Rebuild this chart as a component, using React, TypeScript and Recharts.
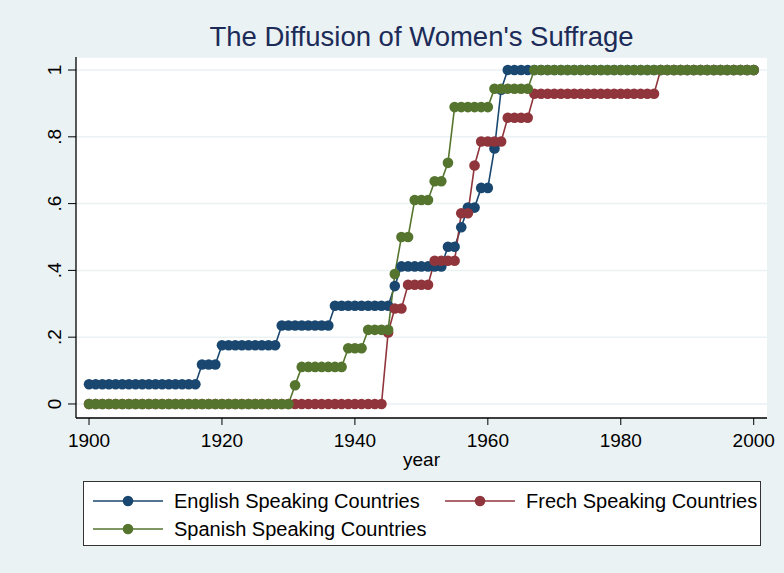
import React from 'react';
import { LineChart, Line, XAxis, YAxis, CartesianGrid, Legend } from 'recharts';

const years = Array.from({ length: 101 }, (_, i) => 1900 + i);

const english = [
  0.059, 0.059, 0.059, 0.059, 0.059, 0.059, 0.059, 0.059, 0.059, 0.059,
  0.059, 0.059, 0.059, 0.059, 0.059, 0.059, 0.059, 0.118, 0.118, 0.118,
  0.176, 0.176, 0.176, 0.176, 0.176, 0.176, 0.176, 0.176, 0.176, 0.235,
  0.235, 0.235, 0.235, 0.235, 0.235, 0.235, 0.235, 0.294, 0.294, 0.294,
  0.294, 0.294, 0.294, 0.294, 0.294, 0.294, 0.353, 0.412, 0.412, 0.412,
  0.412, 0.412, 0.412, 0.412, 0.471, 0.471, 0.529, 0.588, 0.588, 0.647,
  0.647, 0.765, 0.941, 1, 1, 1, 1, 1, 1, 1,
  1, 1, 1, 1, 1, 1, 1, 1, 1, 1,
  1, 1, 1, 1, 1, 1, 1, 1, 1, 1,
  1, 1, 1, 1, 1, 1, 1, 1, 1, 1,
  1,
];

const french = [
  0, 0, 0, 0, 0, 0, 0, 0, 0, 0,
  0, 0, 0, 0, 0, 0, 0, 0, 0, 0,
  0, 0, 0, 0, 0, 0, 0, 0, 0, 0,
  0, 0, 0, 0, 0, 0, 0, 0, 0, 0,
  0, 0, 0, 0, 0, 0.214, 0.286, 0.286, 0.357, 0.357,
  0.357, 0.357, 0.429, 0.429, 0.429, 0.429, 0.571, 0.571, 0.714, 0.786,
  0.786, 0.786, 0.786, 0.857, 0.857, 0.857, 0.857, 0.929, 0.929, 0.929,
  0.929, 0.929, 0.929, 0.929, 0.929, 0.929, 0.929, 0.929, 0.929, 0.929,
  0.929, 0.929, 0.929, 0.929, 0.929, 0.929, 1, 1, 1, 1,
  1, 1, 1, 1, 1, 1, 1, 1, 1, 1,
  1,
];

const spanish = [
  0, 0, 0, 0, 0, 0, 0, 0, 0, 0,
  0, 0, 0, 0, 0, 0, 0, 0, 0, 0,
  0, 0, 0, 0, 0, 0, 0, 0, 0, 0,
  0, 0.056, 0.111, 0.111, 0.111, 0.111, 0.111, 0.111, 0.111, 0.167,
  0.167, 0.167, 0.222, 0.222, 0.222, 0.222, 0.389, 0.5, 0.5, 0.611,
  0.611, 0.611, 0.667, 0.667, 0.722, 0.889, 0.889, 0.889, 0.889, 0.889,
  0.889, 0.944, 0.944, 0.944, 0.944, 0.944, 0.944, 1, 1, 1,
  1, 1, 1, 1, 1, 1, 1, 1, 1, 1,
  1, 1, 1, 1, 1, 1, 1, 1, 1, 1,
  1, 1, 1, 1, 1, 1, 1, 1, 1, 1,
  1,
];

const xTicks = [1900, 1920, 1940, 1960, 1980, 2000];
const yTicks = [0, 0.2, 0.4, 0.6, 0.8, 1];
const yTickLabels = ['0', '.2', '.4', '.6', '.8', '1'];
const seriesKeys = ['english', 'french', 'spanish'];
const seriesNames = [
  'English Speaking Countries',
  'Frech Speaking Countries',
  'Spanish Speaking Countries',
];
const colors = ['#1a476f', '#90353b', '#55752f'];
const title = "The Diffusion of Women's Suffrage";
const xLabel = 'year';

const data = years.map((year, i) => ({
  year,
  english: english[i],
  french: french[i],
  spanish: spanish[i],
}));

const FONT = '"Liberation Sans", Arial, Helvetica, sans-serif';
const BG = '#eaf2f3';

const YTick = (props: any) => {
  const { x, y, payload } = props;
  const idx = yTicks.indexOf(payload.value);
  const label = idx >= 0 ? yTickLabels[idx] : String(payload.value);
  return (
    <text
      x={x}
      y={y}
      transform={`rotate(-90, ${x}, ${y})`}
      textAnchor="middle"
      fontSize={19}
      fontFamily={FONT}
      fill="#000"
    >
      {label}
    </text>
  );
};

const LegendItem = ({ color, name, left, top }: any) => (
  <div
    style={{
      position: 'absolute',
      left,
      top,
      height: 24,
      display: 'flex',
      alignItems: 'center',
      whiteSpace: 'nowrap',
    }}
  >
    <svg width={70} height={14} style={{ display: 'block' }}>
      <line x1={0} y1={7} x2={70} y2={7} stroke={color} strokeWidth={1.6} />
      <circle cx={35} cy={7} r={5.3} fill={color} />
    </svg>
    <span style={{ marginLeft: 11, fontSize: 20, fontFamily: FONT, color: '#000' }}>{name}</span>
  </div>
);

const renderLegend = () => (
  <div
    style={{
      width: 678,
      height: 65,
      boxSizing: 'border-box',
      border: '1px solid #333',
      background: '#fff',
      position: 'relative',
    }}
  >
    <LegendItem color={colors[0]} name={seriesNames[0]} left={9} top={7} />
    <LegendItem color={colors[1]} name={seriesNames[1]} left={361} top={7} />
    <LegendItem color={colors[2]} name={seriesNames[2]} left={9} top={35} />
  </div>
);

export default function App() {
  return (
    <div
      style={{
        position: 'absolute',
        left: 0,
        top: 0,
        width: 784,
        height: 573,
        background: BG,
        fontFamily: FONT,
      }}
    >
      <div
        style={{
          position: 'absolute',
          left: 76,
          width: 691,
          top: 23,
          textAlign: 'center',
          fontSize: 27.5,
          lineHeight: '28px',
          color: '#1c2b58',
          fontFamily: FONT,
          whiteSpace: 'nowrap',
        }}
      >
        {title}
      </div>
      <LineChart
        width={784}
        height={573}
        data={data}
        margin={{ top: 57, right: 17, left: 0, bottom: 0 }}
      >
        <CartesianGrid
          vertical={false}
          fill="#ffffff"
          stroke={BG}
          strokeWidth={1.5}
        />
        <XAxis
          type="number"
          dataKey="year"
          domain={[1898.04, 2002]}
          ticks={xTicks}
          allowDataOverflow
          height={155}
          tickSize={7}
          tickMargin={9}
          axisLine={{ stroke: '#000', strokeWidth: 1.3 }}
          tickLine={{ stroke: '#000', strokeWidth: 1 }}
          tick={{ fontSize: 19, fill: '#000', fontFamily: FONT }}
          label={{
            value: xLabel,
            position: 'insideTop',
            offset: 35,
            fontSize: 19,
            fill: '#000',
            fontFamily: FONT,
          }}
        />
        <YAxis
          type="number"
          domain={[-0.042, 1.039]}
          ticks={yTicks}
          allowDataOverflow
          width={76}
          tickSize={8}
          tickMargin={7}
          axisLine={{ stroke: '#000', strokeWidth: 1.3 }}
          tickLine={{ stroke: '#000', strokeWidth: 1 }}
          tick={<YTick />}
        />
        {seriesKeys.map((k, i) => (
          <Line
            key={k}
            type="linear"
            dataKey={k}
            name={seriesNames[i]}
            stroke={colors[i]}
            strokeWidth={1.6}
            dot={{ r: 5.3, fill: colors[i], stroke: 'none', strokeWidth: 0 }}
            activeDot={false}
            isAnimationActive={false}
          />
        ))}
        <Legend
          layout="horizontal"
          verticalAlign="middle"
          align="center"
          wrapperStyle={{ left: 83, top: 481, width: 678, height: 65 }}
          content={renderLegend}
        />
      </LineChart>
    </div>
  );
}
